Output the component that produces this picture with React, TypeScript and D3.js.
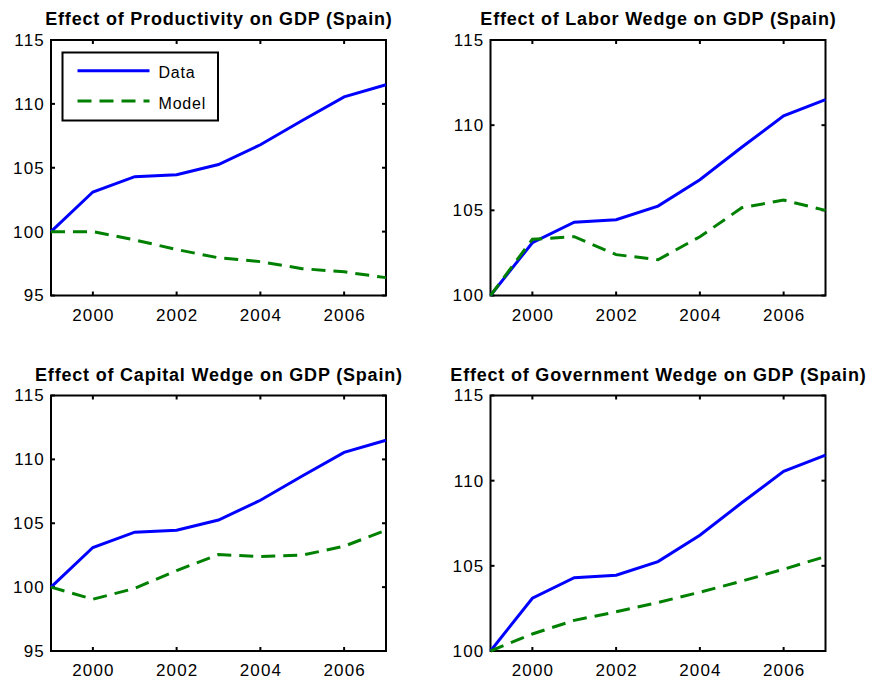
import React, { useEffect, useRef } from 'react';
import * as d3 from 'd3';

// years on the x axis
const years = [1999, 2000, 2001, 2002, 2003, 2004, 2005, 2006, 2007];

// actual GDP (same in every panel)
const gdpData = [100, 103.1, 104.3, 104.45, 105.25, 106.8, 108.7, 110.55, 111.5];

// model series, one per wedge
const productivityModel = [100, 100, 99.35, 98.6, 97.95, 97.65, 97.1, 96.85, 96.4];
const laborModel = [100, 103.3, 103.45, 102.4, 102.1, 103.45, 105.15, 105.6, 105.0];
const capitalModel = [100, 99.05, 99.9, 101.3, 102.55, 102.4, 102.5, 103.2, 104.45];
const governmentModel = [100, 101.0, 101.8, 102.3, 102.85, 103.45, 104.1, 104.8, 105.55];

const titles = [
  'Effect of Productivity on GDP (Spain)',
  'Effect of Labor Wedge on GDP (Spain)',
  'Effect of Capital Wedge on GDP (Spain)',
  'Effect of Government Wedge on GDP (Spain)',
];

const xTicks = [2000, 2002, 2004, 2006];
const yTicksWide = [95, 100, 105, 110, 115];
const yTicksNarrow = [100, 105, 110, 115];

const legendLabels = ['Data', 'Model'];

const W = 873;
const H = 683;
const FONT = "'Liberation Sans', Arial, Helvetica, sans-serif";

const panels = [
  { title: titles[0], model: productivityModel, yTicks: yTicksWide, left: 51, top: 40, legend: true },
  { title: titles[1], model: laborModel, yTicks: yTicksNarrow, left: 490.5, top: 40, legend: false },
  { title: titles[2], model: capitalModel, yTicks: yTicksWide, left: 51, top: 395.5, legend: false },
  { title: titles[3], model: governmentModel, yTicks: yTicksNarrow, left: 490.5, top: 395.5, legend: false },
];

const panelW = 335;
const panelH = 255.5;

export default function App() {
  const svgRef = useRef<SVGSVGElement>(null);

  useEffect(() => {
    if (!svgRef.current) return;
    const svg = d3.select(svgRef.current);
    svg.selectAll('*').remove();

    panels.forEach(p => {
      const g = svg.append('g').attr('transform', `translate(${p.left},${p.top})`);

      const x = d3.scaleLinear().domain([1999, 2007]).range([0, panelW]);
      const y = d3.scaleLinear()
        .domain([d3.min(p.yTicks) as number, d3.max(p.yTicks) as number])
        .range([panelH, 0]);

      // title
      g.append('text')
        .attr('x', panelW / 2 + 0.4)
        .attr('y', -15)
        .attr('text-anchor', 'middle')
        .style('font-family', FONT)
        .style('font-size', '18px')
        .style('font-weight', 'bold')
        .style('letter-spacing', '0.8px')
        .text(p.title);

      // box
      g.append('rect')
        .attr('width', panelW)
        .attr('height', panelH)
        .attr('fill', 'white')
        .attr('stroke', 'black')
        .attr('stroke-width', 2);

      // ticks, inward on all four sides
      xTicks.forEach(t => {
        g.append('line').attr('x1', x(t)).attr('x2', x(t)).attr('y1', panelH).attr('y2', panelH - 4)
          .attr('stroke', 'black').attr('stroke-width', 2);
        g.append('line').attr('x1', x(t)).attr('x2', x(t)).attr('y1', 0).attr('y2', 4)
          .attr('stroke', 'black').attr('stroke-width', 2);
        g.append('text')
          .attr('x', x(t) + 0.6)
          .attr('y', panelH + 25)
          .attr('text-anchor', 'middle')
          .style('font-family', FONT)
          .style('font-size', '17px')
          .style('letter-spacing', '1.2px')
          .text(t);
      });

      p.yTicks.forEach(t => {
        g.append('line').attr('x1', 0).attr('x2', 4).attr('y1', y(t)).attr('y2', y(t))
          .attr('stroke', 'black').attr('stroke-width', 2);
        g.append('line').attr('x1', panelW).attr('x2', panelW - 4).attr('y1', y(t)).attr('y2', y(t))
          .attr('stroke', 'black').attr('stroke-width', 2);
        g.append('text')
          .attr('x', -6)
          .attr('y', y(t))
          .attr('dy', '0.35em')
          .attr('text-anchor', 'end')
          .style('font-family', FONT)
          .style('font-size', '17px')
          .style('letter-spacing', '1.2px')
          .text(t);
      });

      const line = d3.line<number>()
        .x((_, i) => x(years[i]))
        .y(d => y(d));

      g.append('path')
        .attr('d', line(gdpData) as string)
        .attr('fill', 'none')
        .attr('stroke', '#0000ff')
        .attr('stroke-width', 3);

      g.append('path')
        .attr('d', line(p.model) as string)
        .attr('fill', 'none')
        .attr('stroke', '#008000')
        .attr('stroke-width', 3)
        .attr('stroke-dasharray', '14,8');

      if (p.legend) {
        const lg = g.append('g').attr('transform', 'translate(11.5,12.5)');
        lg.append('rect')
          .attr('width', 155.5)
          .attr('height', 68)
          .attr('fill', 'white')
          .attr('stroke', 'black')
          .attr('stroke-width', 2);
        legendLabels.forEach((lab, i) => {
          const ly = 18.2 + i * 30.3;
          lg.append('line')
            .attr('x1', 15).attr('x2', 87)
            .attr('y1', ly).attr('y2', ly)
            .attr('stroke', i === 0 ? '#0000ff' : '#008000')
            .attr('stroke-width', 3)
            .attr('stroke-dasharray', i === 0 ? null : '14,8');
          lg.append('text')
            .attr('x', 96)
            .attr('y', ly + 7.5)
            .style('font-family', FONT)
            .style('font-size', '16px')
            .style('letter-spacing', '0.8px')
            .text(lab);
        });
      }
    });
  }, []);

  return (
    <>
      <style>{'body{margin:0;background:#fff}'}</style>
      <svg ref={svgRef} width={W} height={H} style={{ display: 'block' }}></svg>
    </>
  );
}
